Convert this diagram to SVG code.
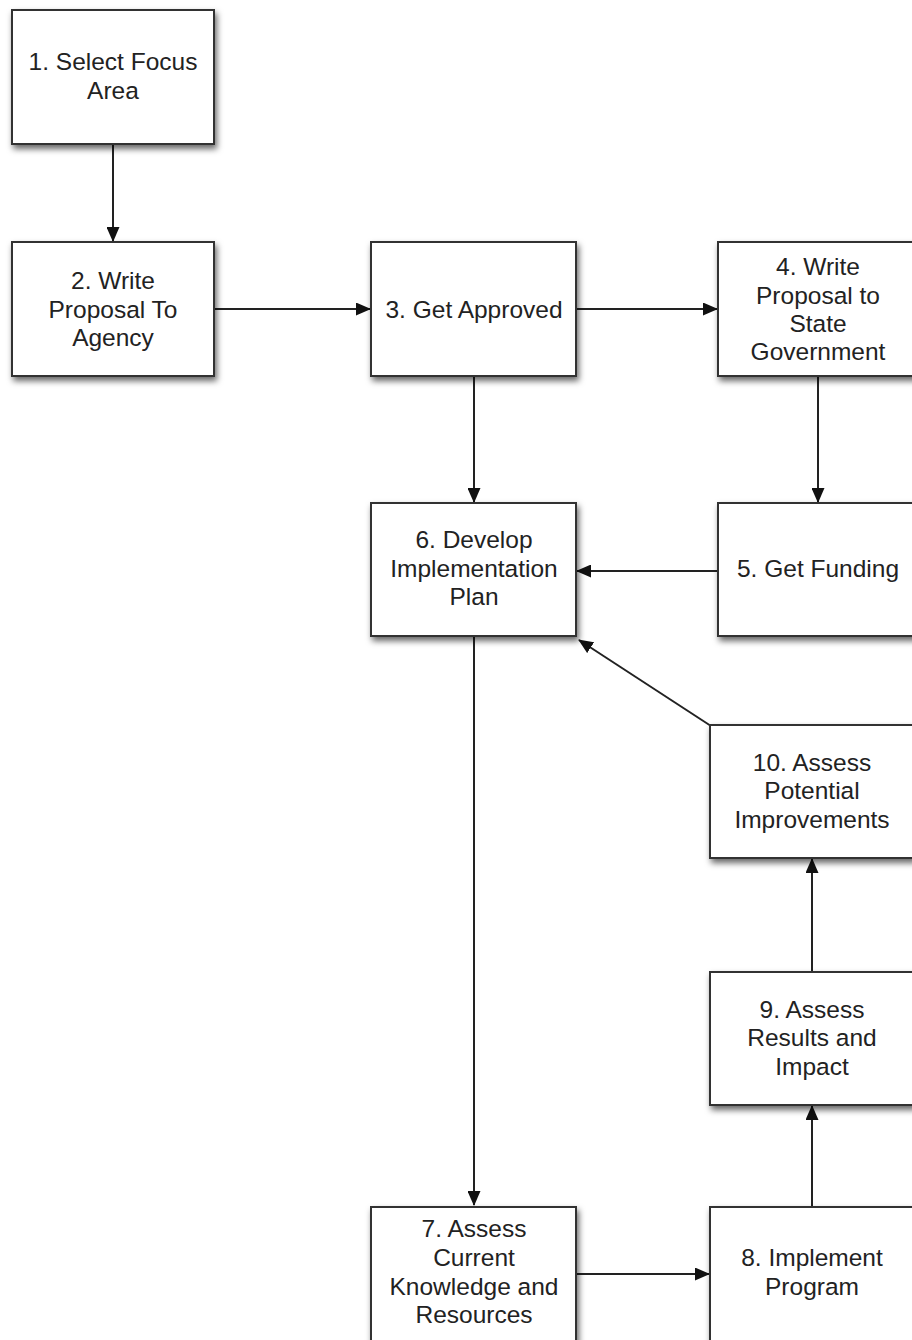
<svg xmlns="http://www.w3.org/2000/svg" width="912" height="1340" viewBox="0 0 912 1340">
<style>
.box{fill:#fff;stroke:#333;stroke-width:2;filter:url(#sh)}
.t{font-family:"Liberation Sans",Arial,sans-serif;font-size:24.5px;fill:#222;text-anchor:middle}
.c{stroke:#222;stroke-width:2;fill:none;marker-end:url(#ah)}
</style>
<defs>
<filter id="sh" x="-10%" y="-10%" width="130%" height="130%">
<feDropShadow dx="2" dy="4" stdDeviation="3" flood-color="#000" flood-opacity="0.6"/>
</filter>
<marker id="ah" viewBox="0 0 15 13" refX="14" refY="6.5" markerWidth="15" markerHeight="13" markerUnits="userSpaceOnUse" orient="auto">
<path d="M0,0 L15,6.5 L0,13 Z" fill="#111"/>
</marker>
</defs>
<g id="connectors">
<line class="c" x1="113" y1="144" x2="113" y2="241"/>
<line class="c" x1="214" y1="309" x2="370" y2="309"/>
<line class="c" x1="576" y1="309" x2="717" y2="309"/>
<line class="c" x1="474" y1="376" x2="474" y2="502"/>
<line class="c" x1="818" y1="376" x2="818" y2="502"/>
<line class="c" x1="718" y1="571" x2="577" y2="571"/>
<line class="c" x1="474" y1="636" x2="474" y2="1205"/>
<line class="c" x1="576" y1="1274" x2="709" y2="1274"/>
<line class="c" x1="812" y1="1206" x2="812" y2="1106"/>
<line class="c" x1="812" y1="972" x2="812" y2="859"/>
<line class="c" x1="711" y1="726" x2="579" y2="640"/>
</g>
<g id="n1"><rect class="box" x="12" y="10" width="202" height="134"/>
<text class="t" x="113" y="70">1. Select Focus</text><text class="t" x="113" y="99">Area</text></g>
<g id="n2"><rect class="box" x="12" y="242" width="202" height="134"/>
<text class="t" x="113" y="289">2. Write</text><text class="t" x="113" y="318">Proposal To</text><text class="t" x="113" y="346">Agency</text></g>
<g id="n3"><rect class="box" x="371" y="242" width="205" height="134"/>
<text class="t" x="474" y="318">3. Get Approved</text></g>
<g id="n4"><rect class="box" x="718" y="242" width="200" height="134"/>
<text class="t" x="818" y="275">4. Write</text><text class="t" x="818" y="304">Proposal to</text><text class="t" x="818" y="332">State</text><text class="t" x="818" y="360">Government</text></g>
<g id="n5"><rect class="box" x="718" y="503" width="200" height="133"/>
<text class="t" x="818" y="577">5. Get Funding</text></g>
<g id="n6"><rect class="box" x="371" y="503" width="205" height="133"/>
<text class="t" x="474" y="548">6. Develop</text><text class="t" x="474" y="577">Implementation</text><text class="t" x="474" y="605">Plan</text></g>
<g id="n7"><rect class="box" x="371" y="1207" width="205" height="140"/>
<text class="t" x="474" y="1237">7. Assess</text><text class="t" x="474" y="1266">Current</text><text class="t" x="474" y="1295">Knowledge and</text><text class="t" x="474" y="1323">Resources</text></g>
<g id="n8"><rect class="box" x="710" y="1207" width="206" height="140"/>
<text class="t" x="812" y="1266">8. Implement</text><text class="t" x="812" y="1295">Program</text></g>
<g id="n9"><rect class="box" x="710" y="972" width="204" height="133"/>
<text class="t" x="812" y="1018">9. Assess</text><text class="t" x="812" y="1046">Results and</text><text class="t" x="812" y="1075">Impact</text></g>
<g id="n10"><rect class="box" x="710" y="725" width="204" height="133"/>
<text class="t" x="812" y="771">10. Assess</text><text class="t" x="812" y="799">Potential</text><text class="t" x="812" y="828">Improvements</text></g>
</svg>
